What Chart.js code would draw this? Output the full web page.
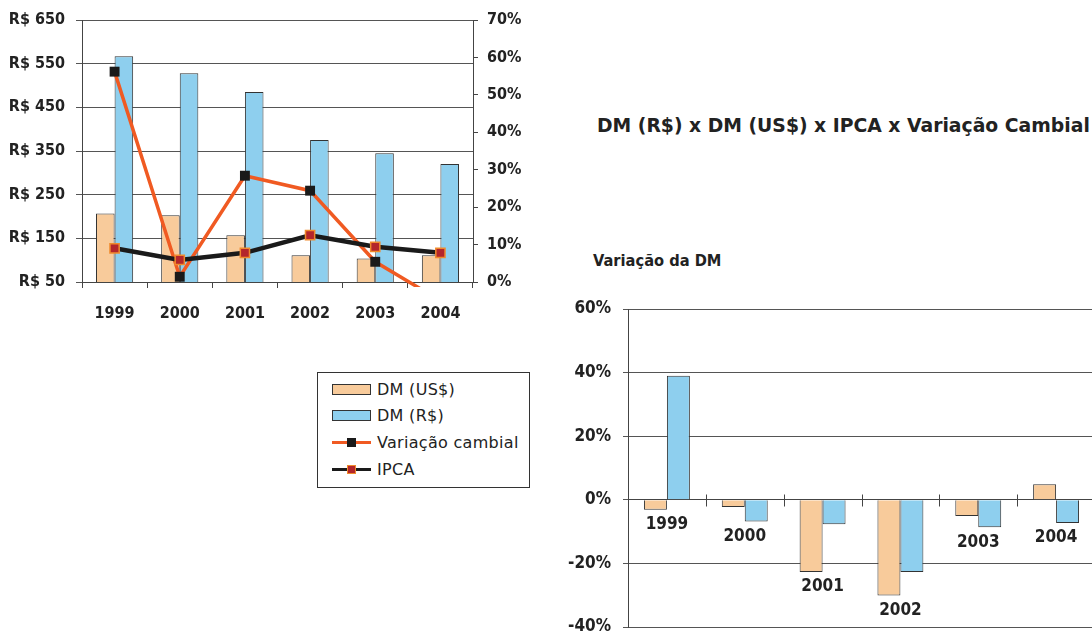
<!DOCTYPE html>
<html>
<head>
<meta charset="utf-8">
<script src="https://cdn.jsdelivr.net/npm/chart.js@4.4.1/dist/chart.umd.min.js"></script>
<style>
  html, body { margin: 0; padding: 0; width: 1092px; height: 633px; overflow: hidden; background: #fff; }
  body { position: relative; font-family: "DejaVu Sans", sans-serif; color: #222; }
  #main { position: absolute; left: 0; top: 0; }
  #dm { position: absolute; left: 560px; top: 290px; }
  .title { position: absolute; left: 597px; top: 112px; font-weight: bold; font-size: 18.8px; white-space: nowrap; line-height: 28px; }
  .sub { position: absolute; left: 593px; top: 250px; font-family: "DejaVu Sans Condensed", "DejaVu Sans", sans-serif; font-weight: bold; font-size: 16.3px; white-space: nowrap; line-height: 22px; }
  #legend { position: absolute; left: 317px; top: 372px; width: 211px; height: 114px; border: 1px solid #333; background: #fff; }
  .item { position: absolute; left: 14px; height: 22px; display: flex; align-items: center; font-size: 16px; letter-spacing: 0.3px; white-space: nowrap; }
  .box { width: 37px; height: 9px; border: 1px solid #333; margin-right: 6px; }
  .ln { position: relative; width: 39px; height: 9px; margin-right: 6px; }
  .ln .bar { position: absolute; left: 0; right: 0; top: 3px; height: 3px; }
  .ln .mk { position: absolute; left: 15px; top: 0; width: 9px; height: 9px; box-sizing: border-box; }
</style>
</head>
<body>
<canvas id="main" width="560" height="340"></canvas>
<canvas id="dm" width="540" height="350"></canvas>

<div class="title">DM (R$) x DM (US$) x IPCA x Variação Cambial</div>
<div class="sub">Variação da DM</div>

<div id="legend">
  <div class="item" style="top:5px"><div class="box" style="background:#f8cb9b"></div>DM (US$)</div>
  <div class="item" style="top:31px"><div class="box" style="background:#8ecfee"></div>DM (R$)</div>
  <div class="item" style="top:58px"><div class="ln"><div class="bar" style="background:#f05a22"></div><div class="mk" style="background:#1a1a1a"></div></div>Variação cambial</div>
  <div class="item" style="top:85px"><div class="ln"><div class="bar" style="background:#1a1a1a"></div><div class="mk" style="background:#b3262b;border:1.5px solid #f08a2c"></div></div>IPCA</div>
</div>

<script>
// Years shown on both charts
const years = ['1999', '2000', '2001', '2002', '2003', '2004'];

// Dívida mobiliária (bars, left axis)
const dmUsd = [207, 203, 157, 111, 104, 111];
const dmBrl = [567, 528, 485, 375, 345, 320];

// Percent series (right axis)
const cambio = [56.2, 1.4, 28.4, 24.4, 5.4, -5];
const ipca = [9.0, 5.9, 7.8, 12.5, 9.4, 7.8];

// Annual change of the debt, in percent
const varUsd = [-3.1, -2.3, -22.7, -30.1, -5.1, 4.9];
const varBrl = [39.0, -6.8, -7.7, -22.7, -8.6, -7.3];

// Axis tick settings
const brlTicks = { min: 50, max: 650, step: 100 };
const pctTicks = { min: 0, max: 70, step: 10 };
const varTicks = { min: -40, max: 60, step: 20 };

const ORANGE_FILL = '#f8cb9b';
const BLUE_FILL = '#8ecfee';
const BAR_EDGE = '#333';
const GRID = '#555';
const AXIS = '#444';
const TEXT = '#222';
const FONT = '"DejaVu Sans Condensed", "DejaVu Sans", sans-serif';

Chart.defaults.font.family = FONT;
Chart.defaults.color = TEXT;

new Chart(document.getElementById('main'), {
  type: 'bar',
  data: {
    labels: years,
    datasets: [
      { label: 'DM (US$)', data: dmUsd, yAxisID: 'brl', backgroundColor: ORANGE_FILL,
        borderColor: BAR_EDGE, borderWidth: 1, order: 3,
        categoryPercentage: 0.57, barPercentage: 1 },
      { label: 'DM (R$)', data: dmBrl, yAxisID: 'brl', backgroundColor: BLUE_FILL,
        borderColor: BAR_EDGE, borderWidth: 1, order: 3,
        categoryPercentage: 0.57, barPercentage: 1 },
      { type: 'line', label: 'Variação cambial', data: cambio, yAxisID: 'pct',
        borderColor: '#f05a22', borderWidth: 3.5, tension: 0, order: 2,
        pointStyle: 'rect', pointRadius: 7, pointBackgroundColor: '#1a1a1a',
        pointBorderColor: '#1a1a1a', pointBorderWidth: 0,
        clip: { left: 10, right: 10, top: 10, bottom: 5 } },
      { type: 'line', label: 'IPCA', data: ipca, yAxisID: 'pct',
        borderColor: '#1a1a1a', borderWidth: 4.5, tension: 0, order: 1,
        pointStyle: 'rect', pointRadius: 6.5, pointBackgroundColor: '#b3262b',
        pointBorderColor: '#f08a2c', pointBorderWidth: 1.5 }
    ]
  },
  options: {
    responsive: false,
    animation: false,
    devicePixelRatio: 1,
    layout: { padding: { top: 20, left: 0, right: 0, bottom: 0 } },
    plugins: { legend: { display: false }, tooltip: { enabled: false } },
    scales: {
      x: {
        grid: { offset: true, drawOnChartArea: false, tickLength: 6, color: AXIS },
        border: { color: AXIS },
        ticks: { font: { size: 16, weight: 'bold' }, color: TEXT, padding: 16 },
        afterFit(s) { s.height = 58; }
      },
      brl: {
        position: 'left', min: brlTicks.min, max: brlTicks.max,
        ticks: { stepSize: brlTicks.step, callback: v => 'R$ ' + v,
                 font: { size: 16, weight: 'bold' }, color: TEXT, padding: 11 },
        grid: { color: GRID, tickLength: 6 },
        border: { color: AXIS },
        afterFit(s) { s.width = 82; s.paddingTop = 0; s.paddingBottom = 0; }
      },
      pct: {
        position: 'right', min: pctTicks.min, max: pctTicks.max,
        ticks: { stepSize: pctTicks.step, callback: v => v + '%',
                 font: { size: 16, weight: 'bold' }, color: TEXT, padding: 9 },
        grid: { drawOnChartArea: false, tickLength: 5, color: AXIS },
        border: { color: AXIS },
        afterFit(s) { s.width = 87; s.paddingTop = 0; s.paddingBottom = 0; }
      }
    }
  }
});

// Year labels under the lowest bar of each group, plus cross ticks on the zero line
const yearUnderBars = {
  id: 'yearUnderBars',
  afterDatasetsDraw(chart) {
    const { ctx, scales: { x, y } } = chart;
    ctx.save();
    ctx.strokeStyle = AXIS;
    ctx.lineWidth = 1;
    const y0 = Math.round(y.getPixelForValue(0)) + 0.5;
    for (let i = 1; i < years.length; i++) {
      const px = Math.round((x.getPixelForValue(i - 1) + x.getPixelForValue(i)) / 2) + 0.5;
      ctx.beginPath();
      ctx.moveTo(px, y0 - 6);
      ctx.lineTo(px, y0 + 6);
      ctx.stroke();
    }
    ctx.font = 'bold 17px ' + FONT;
    ctx.fillStyle = TEXT;
    ctx.textAlign = 'center';
    ctx.textBaseline = 'middle';
    years.forEach((yr, i) => {
      const low = Math.min(0, varUsd[i], varBrl[i]);
      ctx.fillText(yr, x.getPixelForValue(i), y.getPixelForValue(low) + 15);
    });
    ctx.restore();
  }
};

new Chart(document.getElementById('dm'), {
  type: 'bar',
  data: {
    labels: years,
    datasets: [
      { label: 'DM (US$)', data: varUsd, backgroundColor: ORANGE_FILL, borderColor: BAR_EDGE,
        borderWidth: 1, categoryPercentage: 0.59, barPercentage: 1 },
      { label: 'DM (R$)', data: varBrl, backgroundColor: BLUE_FILL, borderColor: BAR_EDGE,
        borderWidth: 1, categoryPercentage: 0.59, barPercentage: 1 }
    ]
  },
  options: {
    responsive: false,
    animation: false,
    devicePixelRatio: 1,
    layout: { padding: { top: 19, left: 0, right: 5, bottom: 13 } },
    plugins: { legend: { display: false }, tooltip: { enabled: false } },
    scales: {
      x: {
        position: { y: 0 },
        grid: { display: false },
        ticks: { display: false },
        border: { color: AXIS },
        afterFit(s) { s.height = 0; }
      },
      y: {
        min: varTicks.min, max: varTicks.max,
        ticks: { stepSize: varTicks.step, callback: v => v + '%',
                 font: { size: 17, weight: 'bold' }, color: TEXT, padding: 12 },
        grid: { color: GRID, tickLength: 5 },
        border: { color: AXIS },
        afterFit(s) { s.width = 68; s.paddingTop = 0; s.paddingBottom = 0; }
      }
    }
  },
  plugins: [yearUnderBars]
});
</script>
</body>
</html>
